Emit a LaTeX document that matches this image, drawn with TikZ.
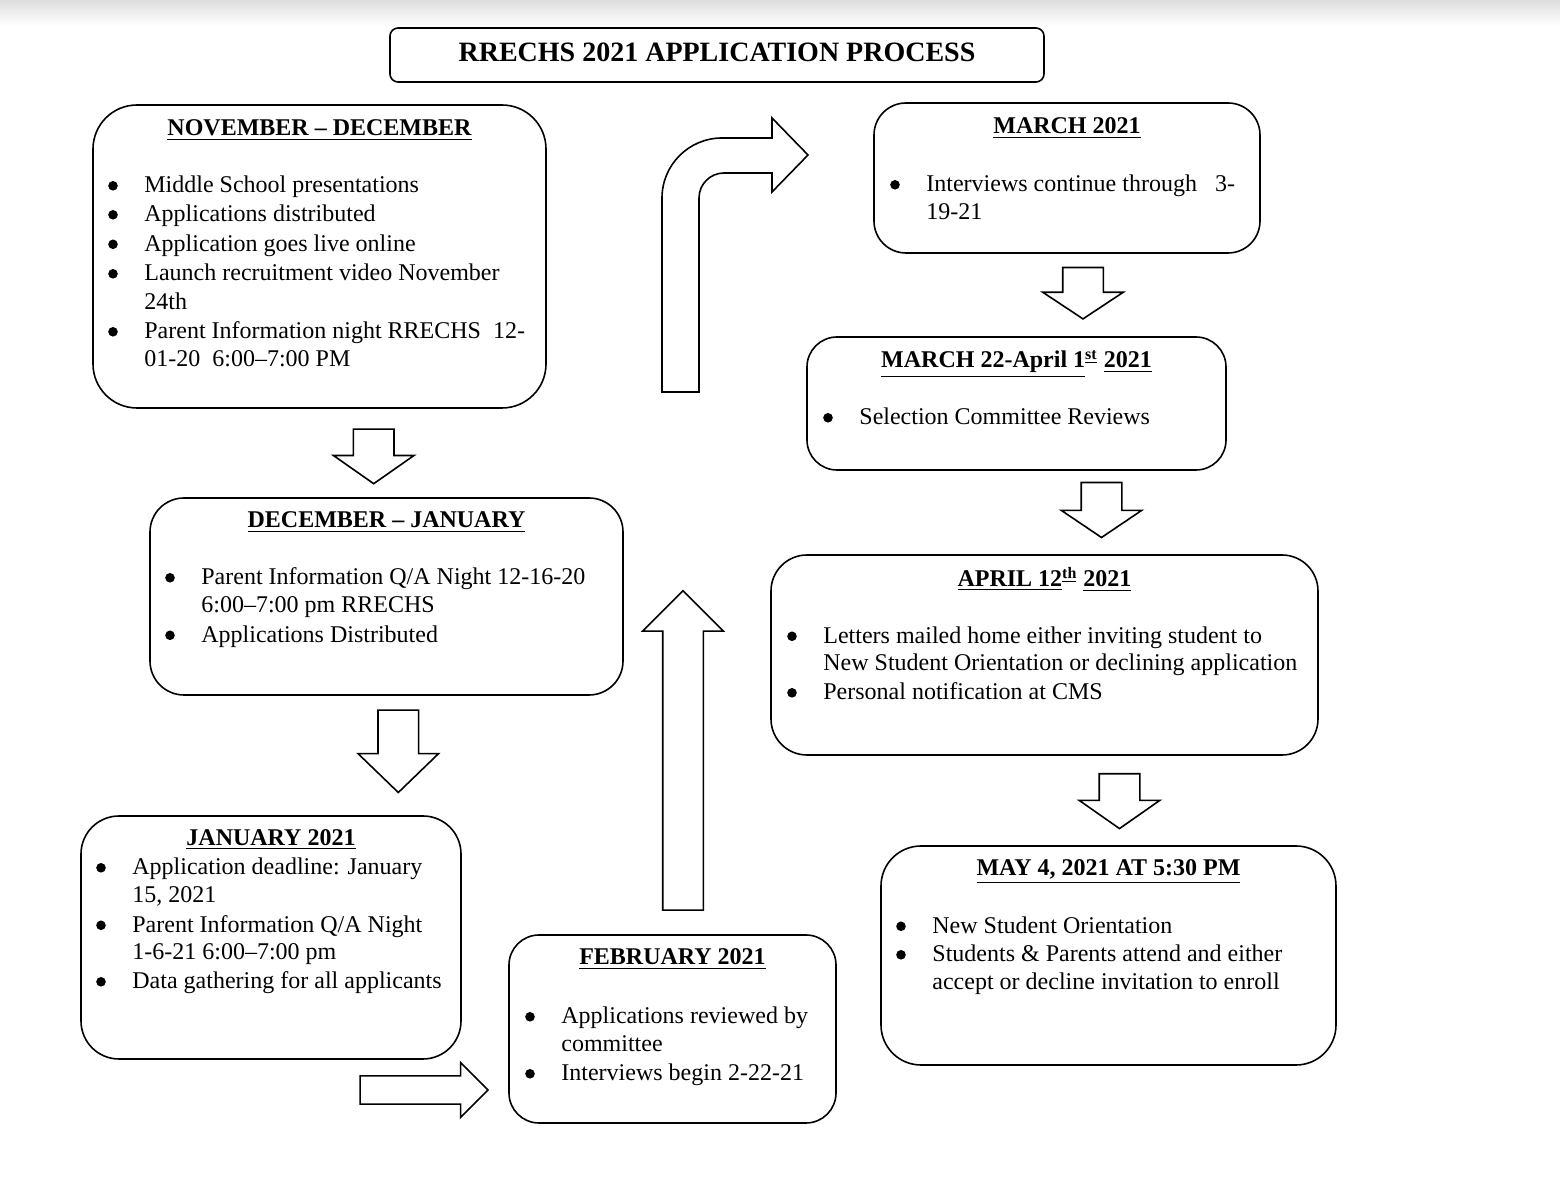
\documentclass[tikz,border=0pt]{standalone}
\usepackage{fontspec}
\setmainfont{Liberation Serif}
\usepackage{tikz}
\usetikzlibrary{shapes.arrows,fit}

\begin{document}
\begin{tikzpicture}[
    x=0.5pt, y=-0.5pt,
    font=\fontsize{12pt}{14.5pt}\selectfont,
    phasebox/.style={draw, line width=0.8pt, inner sep=0pt},
    head/.style={anchor=base, inner sep=0pt, font=\fontsize{12pt}{14.5pt}\selectfont\bfseries},
    item/.style={anchor=base west, inner sep=0pt},
    dot/.style={circle, fill, inner sep=0pt, minimum size=4.8pt, yshift=3.6pt},
    blockarrow/.style={single arrow, draw, line width=0.8pt, anchor=tail,
        inner xsep=0pt, inner ysep=9.75pt, single arrow head extend=10pt},
    bentarrow/.style={draw, line width=0.8pt, line join=miter}
]
\useasboundingbox (0,0) rectangle (1560,1186);
\shade[top color=black!13, bottom color=white] (0,0) rectangle (1560,26);

% Title
\node[phasebox, rounded corners=4pt, fit={(390,28) (1044,82)}] (title) {};
\node[anchor=base, inner sep=0pt, font=\fontsize{14pt}{17pt}\selectfont\bfseries] (title-t) at (717,62) {RRECHS 2021 APPLICATION PROCESS};

% November - December
\node[phasebox, rounded corners=22pt, fit={(93,105) (546,408)}] (nov) {};
\node[head] (nov-h) at (319.5,136) {\underline{NOVEMBER – DECEMBER}};
\node[dot] (nov-b1) at (113,193) {};
\node[item] (nov-t1) at (144,193) {Middle School presentations};
\node[dot] (nov-b2) at (113,222) {};
\node[item] (nov-t2) at (144,222) {Applications distributed};
\node[dot] (nov-b3) at (113,251.5) {};
\node[item] (nov-t3) at (144,251.5) {Application goes live online};
\node[dot] (nov-b4) at (113,281) {};
\node[item] (nov-t4) at (144,281) {Launch recruitment video November};
\node[item] (nov-t5) at (144,309.5) {24th};
\node[dot] (nov-b6) at (113,339) {};
\node[item] (nov-t6) at (144,339) {Parent Information night RRECHS~ 12-};
\node[item] (nov-t7) at (144,367) {01-20~ 6:00–7:00 PM};

% December - January
\node[phasebox, rounded corners=17pt, fit={(150,498) (623,695)}] (dec) {};
\node[head] (dec-h) at (386.5,528) {\underline{DECEMBER – JANUARY}};
\node[dot] (dec-b1) at (170,585) {};
\node[item] (dec-t1) at (201,585) {Parent Information Q/A Night 12-16-20};
\node[item] (dec-t2) at (201,613) {6:00–7:00 pm RRECHS};
\node[dot] (dec-b3) at (170,642.5) {};
\node[item] (dec-t3) at (201,642.5) {Applications Distributed};

% January
\node[phasebox, rounded corners=19pt, fit={(81,816) (461,1059)}] (jan) {};
\node[head] (jan-h) at (271,845.5) {\underline{JANUARY 2021}};
\node[dot] (jan-b1) at (101,875) {};
\node[item] (jan-t1) at (132,875) {Application deadline: January};
\node[item] (jan-t2) at (132,903) {15, 2021};
\node[dot] (jan-b3) at (101,932.5) {};
\node[item] (jan-t3) at (132,932.5) {Parent Information Q/A Night};
\node[item] (jan-t4) at (132,960) {1-6-21 6:00–7:00 pm};
\node[dot] (jan-b5) at (101,989) {};
\node[item] (jan-t5) at (132,989) {Data gathering for all applicants};

% February
\node[phasebox, rounded corners=15pt, fit={(509,935) (836,1123)}] (feb) {};
\node[head] (feb-h) at (672.5,965) {\underline{FEBRUARY 2021}};
\node[dot] (feb-b1) at (530,1024) {};
\node[item] (feb-t1) at (561,1024) {Applications reviewed by};
\node[item] (feb-t2) at (561,1052) {committee};
\node[dot] (feb-b3) at (530,1081) {};
\node[item] (feb-t3) at (561,1081) {Interviews begin 2-22-21};

% March
\node[phasebox, rounded corners=16pt, fit={(874,103) (1260,253)}] (mar) {};
\node[head] (mar-h) at (1067,134) {\underline{MARCH 2021}};
\node[dot] (mar-b1) at (895,192) {};
\node[item] (mar-t1) at (926,192) {Interviews continue through~~ 3-};
\node[item] (mar-t2) at (926,220) {19-21};

% March 22 - April 1
\node[phasebox, rounded corners=15pt, fit={(807,337) (1226,470)}] (rev) {};
\node[head] (rev-h) at (1016.5,368) {\underline{MARCH 22-April 1}\textsuperscript{\underline{st}} \underline{2021}};
\node[dot] (rev-b1) at (828,425) {};
\node[item] (rev-t1) at (859,425) {Selection Committee Reviews};

% April 12
\node[phasebox, rounded corners=18pt, fit={(771,555) (1318,755)}] (apr) {};
\node[head] (apr-h) at (1044.5,587) {\underline{APRIL 12}\textsuperscript{\underline{th}} \underline{2021}};
\node[dot] (apr-b1) at (792,643.5) {};
\node[item] (apr-t1) at (823,643.5) {Letters mailed home either inviting student to};
\node[item] (apr-t2) at (823,671) {New Student Orientation or declining application};
\node[dot] (apr-b3) at (792,700) {};
\node[item] (apr-t3) at (823,700) {Personal notification at CMS};

% May 4
\node[phasebox, rounded corners=20pt, fit={(881,846) (1336,1065)}] (may) {};
\node[head] (may-h) at (1108.5,876) {\underline{MAY 4, 2021 AT 5:30 PM}};
\node[dot] (may-b1) at (901,933.5) {};
\node[item] (may-t1) at (932,933.5) {New Student Orientation};
\node[dot] (may-b2) at (901,962) {};
\node[item] (may-t2) at (932,962) {Students \& Parents attend and either};
\node[item] (may-t3) at (932,990) {accept or decline invitation to enroll};

% Block arrows
\node[blockarrow, rotate=-90, minimum height=27.3pt, single arrow tip angle=110] (nov-dec) at (373.7,428.3) {};
\node[blockarrow, rotate=-90, minimum height=41.2pt, single arrow tip angle=92] (dec-jan) at (398.3,709.3) {};
\node[blockarrow, minimum height=64pt, single arrow tip angle=90, inner ysep=6.65pt, single arrow head extend=6.7pt] (jan-feb) at (359.3,1090) {};
\node[blockarrow, rotate=90, minimum height=159.7pt, single arrow tip angle=90] (feb-up) at (683,911) {};
\node[blockarrow, rotate=-90, minimum height=25.7pt, single arrow tip angle=113] (mar-rev) at (1083,266.7) {};
\node[blockarrow, rotate=-90, minimum height=27.5pt, single arrow tip angle=112] (rev-apr) at (1101.5,481.7) {};
\node[blockarrow, rotate=-90, minimum height=27.4pt, single arrow tip angle=110] (apr-may) at (1119.5,773) {};

% Bent arrow from Nov-Dec up to March
\draw[bentarrow] (662,392) -- (662,198) arc[start angle=180, end angle=270, radius=60]
    -- (772,138) -- (772,118) -- (808,155) -- (772,192) -- (772,173)
    -- (724,173) arc[start angle=270, end angle=180, radius=25] -- (699,392) -- cycle;
\end{tikzpicture}
\end{document}
